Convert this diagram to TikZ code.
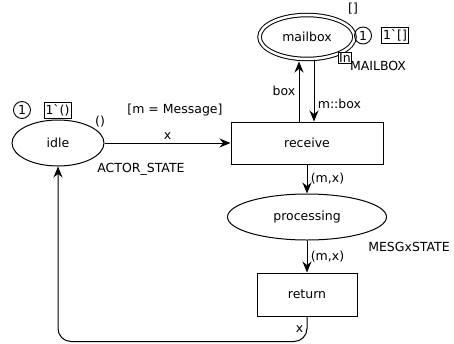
\documentclass[tikz,border=0pt]{standalone}
\usepackage{fontspec}
\newfontfamily\cpnfont{DejaVu Sans}
\usetikzlibrary{positioning,arrows.meta,shapes.geometric}

\begin{document}
\begin{tikzpicture}[x=1pt, y=1pt,
    every node/.style={font=\cpnfont\fontsize{12.5}{15}\selectfont},
    place/.style={ellipse, draw, line width=1pt, minimum width=92pt, minimum height=46pt},
    trans/.style={rectangle, draw, line width=1pt},
    token/.style={circle, draw, line width=0.9pt, inner sep=0pt, minimum size=17pt},
    tokenbox/.style={rectangle, draw, line width=0.9pt, inner sep=1.5pt, minimum height=16pt},
    arr/.style={-{Stealth[length=11pt, width=9pt]}, line width=1pt}
  ]
    \useasboundingbox (0,0) rectangle (454,-343);
    % places and transitions
    \node[trans, minimum width=152pt, minimum height=42pt] (receive) at (307,-143) {receive};
    \node[place, minimum width=159pt, below=29pt of receive] (processing) {processing};
    \node[trans, minimum width=100pt, minimum height=43pt, below=32pt of processing] (return) {return};
    \node[place, double, double distance=2.5pt, minimum width=95pt, minimum height=44pt, above=62pt of receive] (mailbox) {mailbox};
    \node[place, left=126pt of receive] (idle) {idle};
    % arcs
    \draw[arr] (idle) -- node[above] (xin) {x} (receive);
    \draw[arr, shorten >=2pt] ([xshift=-8pt]receive.north) -- node[left] (boxlbl) {box} ([xshift=-8pt]mailbox.south);
    \draw[arr] ([xshift=7pt]mailbox.south) -- node[right, pos=0.72] (mboxlbl) {m::box} ([xshift=7pt]receive.north);
    \draw[arr] (receive) -- node[right] (mxa) {(m,x)} (processing);
    \draw[arr] (processing) -- node[right] (mxb) {(m,x)} (return);
    \draw[arr, rounded corners=13pt] (return.south) -- node[left] (xout) {x} ++(0,-25) -| (idle.south);
    % inscriptions
    \node (guard) at (175,-110) {[m = Message]};
    \node (idleinit) at (100,-122) {()};
    \node (idletype) at (141,-169) {ACTOR\_STATE};
    \node[token] (idletok) at (22,-110) {1};
    \node[tokenbox] (idlemark) at (57.5,-110) {1`()};
    \node (mbinit) at (353,-9) {[]};
    \node[token] (mbtok) at (363,-35.5) {1};
    \node[tokenbox] (mbmark) at (395,-35.5) {1`[]};
    \node (mbtype) at (378,-66) {MAILBOX};
    \node[rectangle, draw, fill=white, inner sep=1pt, line width=0.9pt] (mbport) at (345,-58) {In};
    \node (proctype) at (409,-247) {MESGxSTATE};
\end{tikzpicture}
\end{document}
